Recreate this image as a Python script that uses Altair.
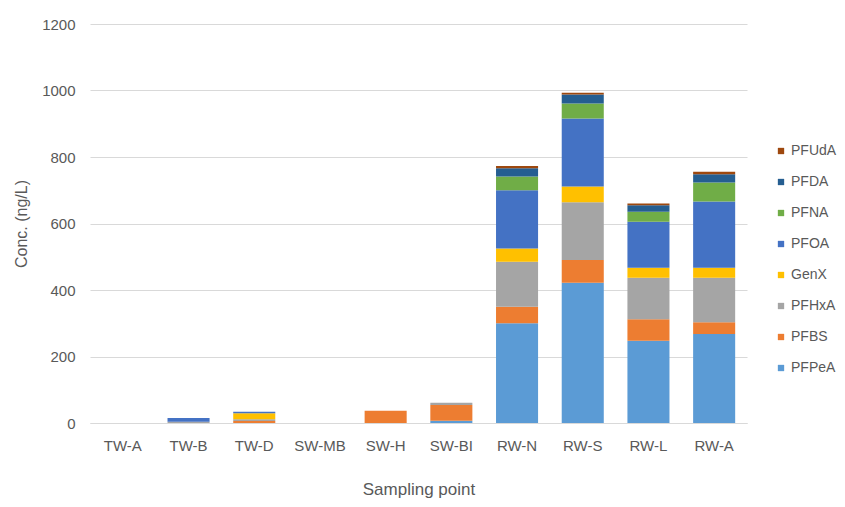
import altair as alt
import pandas as pd

sites = ["TW-A", "TW-B", "TW-D", "SW-MB", "SW-H", "SW-BI", "RW-N", "RW-S", "RW-L", "RW-A"]
compounds = ["PFPeA", "PFBS", "PFHxA", "GenX", "PFOA", "PFNA", "PFDA", "PFUdA"]
colors = ["#5B9BD5", "#ED7D31", "#A5A5A5", "#FFC000", "#4472C4", "#70AD47", "#255E91", "#9E480E"]

PFPeA = [0, 0, 0, 0, 0, 7, 300, 422, 247, 268]
PFBS = [0, 0, 6, 0, 37, 47, 50, 68, 65, 35]
PFHxA = [0, 4, 5, 0, 0, 7, 135, 174, 125, 134]
GenX = [0, 0, 18, 0, 0, 0, 40, 47, 30, 30]
PFOA = [0, 11, 5, 0, 0, 0, 175, 205, 138, 199]
PFNA = [0, 0, 0, 0, 0, 0, 41, 45, 30, 57]
PFDA = [0, 0, 0, 0, 0, 0, 25, 27, 20, 25]
PFUdA = [0, 0, 0, 0, 0, 0, 7, 5, 5, 8]

series = [PFPeA, PFBS, PFHxA, GenX, PFOA, PFNA, PFDA, PFUdA]
rows = []
for ci, (name, vals) in enumerate(zip(compounds, series)):
    for s, v in zip(sites, vals):
        rows.append({"site": s, "compound": name, "value": v, "ord": ci})
df = pd.DataFrame(rows)

font = "Liberation Sans"
txt = "#595959"

chart = alt.Chart(df).mark_bar().encode(
    x=alt.X("site:N", sort=sites, title="Sampling point",
            scale=alt.Scale(paddingInner=0.36, paddingOuter=0.18),
            axis=alt.Axis(labelAngle=0, ticks=False, labelPadding=15, labelFontSize=15,
                          labelColor=txt, titleFontSize=17, titleColor=txt, titleFontWeight="normal",
                          titlePadding=28, domainColor="#d9d9d9", labelFont=font, titleFont=font)),
    y=alt.Y("value:Q", title="Conc. (ng/L)", stack="zero",
            scale=alt.Scale(domain=[0, 1200]),
            axis=alt.Axis(values=[0, 200, 400, 600, 800, 1000, 1200], format="d", domain=False, ticks=False,
                          labelPadding=15, labelFontSize=15, labelColor=txt, gridColor="#d9d9d9",
                          titleFontSize=16, titleColor=txt, titleFontWeight="normal", titlePadding=12,
                          labelFont=font, titleFont=font)),
    color=alt.Color("compound:N",
                    scale=alt.Scale(domain=compounds[::-1], range=colors[::-1]),
                    legend=alt.Legend(title=None, orient="none", legendX=684, legendY=120,
                                      symbolType="square", symbolSize=40, symbolStrokeWidth=0,
                                      labelFontSize=14, labelColor=txt, labelFont=font,
                                      rowPadding=17, labelOffset=3, padding=0)),
    order=alt.Order("ord:Q", sort="ascending"),
).properties(
    width=657, height=399,
    autosize=alt.AutoSizeParams(type="none"),
    padding={"left": 82, "top": 16, "right": 90, "bottom": 76},
).configure_view(stroke=None).configure_axis(grid=True).configure_axisX(grid=False)

chart.save("out.html", embed_options={"renderer": "svg", "actions": False})
